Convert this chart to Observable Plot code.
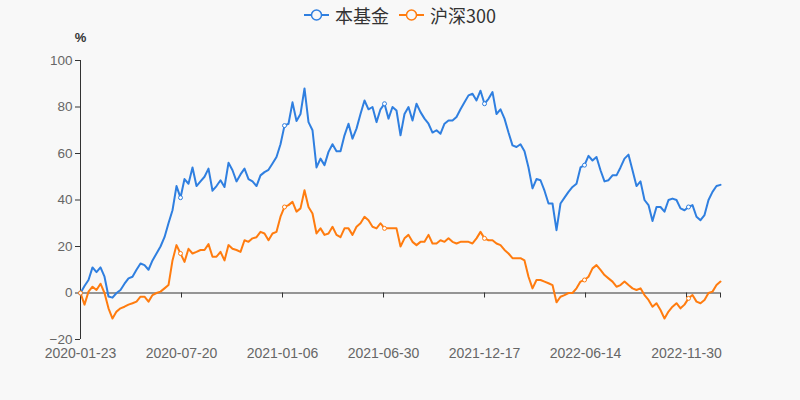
<!DOCTYPE html>
<html><head><meta charset="utf-8">
<script src="https://cdn.jsdelivr.net/npm/d3@7"></script>
<script src="https://cdn.jsdelivr.net/npm/@observablehq/plot@0.6"></script>
<style>
body{margin:0;background:#f8f8f8;}
#wrap{position:relative;width:800px;height:400px;}
#legend{position:absolute;top:3px;left:0;width:800px;height:24px;display:flex;justify-content:center;align-items:center;font-family:"Noto Sans CJK SC","Liberation Sans",sans-serif;font-size:18px;color:#333;z-index:2;}
.item{display:flex;align-items:center;margin:0 5px;}
.item svg{margin-right:6px;}
</style></head><body>
<div id="wrap"><div id="legend"></div><div id="chart"></div></div>
<script>
const seriesNames = ["本基金", "沪深300"];
const seriesColors = ["#2f7fe0", "#ff7c0f"];

// cumulative return (%) at evenly spaced trading days
const fundValues = [
  0, 3, 5.6, 11, 9, 11, 7, -1.5, -2, 0,
  1.3, 4, 6.3, 7, 10, 12.7, 12, 10, 14, 17,
  20, 24, 30, 35.6, 46, 41, 49, 47, 54, 46,
  48, 50, 53.5, 44, 46, 48.5, 45.6, 56, 52.8, 48,
  51, 53.5, 49, 48, 46, 50.6, 52, 53, 55.7, 58.5,
  64, 72, 72.8, 82, 74, 77, 88, 73.5, 70, 54,
  57.8, 55, 60.7, 64, 61, 61, 67.8, 72.8, 66.4, 70.7,
  77, 82.8, 79, 80, 73.5, 79, 81.4, 75, 80, 78.5,
  67.8, 77, 80, 74.2, 81.4, 77.8, 75, 72.8, 69, 70,
  68.5, 72.8, 74.2, 74.2, 75.7, 79, 82, 85, 85.7, 82.8,
  87, 81.4, 83.5, 86.4, 77, 79, 75, 69, 63.5, 62.8,
  64, 61, 54, 45, 49, 48.5, 44, 38.5, 38.5, 27,
  38.5, 41, 43.5, 45.6, 47, 54, 55, 59, 57, 58.5,
  52.8, 48, 48.5, 50.6, 50.6, 54, 57.8, 59.5, 52.8, 46,
  48, 40, 37.8, 31, 37, 37, 35, 40, 40.6, 40,
  36.4, 35.6, 37, 37.8, 32.8, 31.3, 33.5, 40, 43.5, 46,
  46.5
];
const indexValues = [
  0, -5, 0.6, 2.7, 1.3, 4, 0, -6.6, -11, -8,
  -6.6, -5.9, -5, -4.4, -3.7, -1.6, -1.6, -3.7, -0.9, 0,
  0.6, 2, 3.4, 14, 20.6, 17, 13.4, 19, 17, 17.7,
  18.5, 18.5, 21, 15.6, 15.6, 17.7, 14, 20.6, 19, 18.5,
  17.7, 22.7, 22, 23.5, 24, 26.3, 25.6, 22.7, 25.6, 26.3,
  32.8, 37, 37.8, 39.2, 35, 36.4, 44.2, 37, 34.2, 25.6,
  27.8, 25, 25.6, 28.5, 25, 24, 27.8, 27.8, 25, 28.5,
  30, 32.8, 31.3, 28.5, 27.8, 30, 27.8, 27.8, 27.8, 27.8,
  20, 23.5, 25, 22, 20.6, 22, 22, 25, 21.3, 21.3,
  22.7, 22, 23.5, 22, 21.3, 22, 22, 22, 21.3, 23.5,
  26.3, 23.5, 22.7, 22.7, 21.3, 20.6, 18.5, 17, 15, 15,
  15, 14, 7, 2, 5.6, 5.6, 4.9, 4.2, 3.4, -4,
  -1.6, -0.9, 0, 0, 2, 4.9, 5.6, 7, 10.6, 12,
  9.9, 7.7, 6.3, 4.9, 2.7, 3.4, 4.9, 3.4, 2, 1.3,
  2, -0.9, -3, -5.9, -4.4, -7.3, -11, -8, -5.9, -4.4,
  -6.6, -5, -2.3, -0.9, -3.7, -4.4, -3, 0, 0.6, 3.4,
  4.9
];
const tickLabels = ["2020-01-23", "2020-07-20", "2021-01-06", "2021-06-30", "2021-12-17", "2022-06-14", "2022-11-30"];
const tickDays = [0, 116, 232, 348, 464, 580, 696];   // trading-day index of each label
const spanDays = 735;                                  // last trading-day index
const yTicks = [-20, 0, 20, 40, 60, 80, 100];
const unitLabel = "%";

const n = fundValues.length;
const data = fundValues.map((v, i) => ({x: i * spanDays / (n - 1), fund: v, hs: indexValues[i]}));
const dotData = tickDays.map(d => data[Math.round(d * (n - 1) / spanDays)]);
const ticks = tickDays.map((d, i) => ({x: d, label: tickLabels[i]}));

const chart = Plot.plot({
  width: 800, height: 400,
  marginTop: 60, marginBottom: 61, marginLeft: 80, marginRight: 80,
  style: {background: "#f8f8f8", fontFamily: "'Liberation Sans', Arial, sans-serif", fontSize: "14px", color: "#333"},
  x: {domain: [0, spanDays], axis: null},
  y: {domain: [-20, 100], axis: null},
  marks: [
    Plot.ruleX([0], {stroke: "#333", strokeWidth: 1}),
    Plot.ruleY(yTicks, {y: d => d, x1: 0, x2: 0, insetLeft: -5, stroke: "#333"}),
    Plot.text(yTicks, {y: d => d, frameAnchor: "left", dx: -8, textAnchor: "end", fill: "#666", fontSize: 13.5, text: d => d < 0 ? "\u2212" + Math.abs(d) : String(d)}),
    Plot.ruleY([0], {stroke: "#333", strokeWidth: 1}),
    Plot.ruleX([...tickDays, spanDays], {x: d => d, y1: 0, y2: 0, insetBottom: -5, stroke: "#333"}),
    Plot.text(ticks, {x: "x", text: "label", frameAnchor: "bottom", dy: 18, fill: "#666"}),
    Plot.text([{x: 0, t: unitLabel}], {x: "x", text: "t", frameAnchor: "top", dy: -23, lineAnchor: "middle", textAnchor: "middle", fontWeight: "bold", fill: "#333", fontSize: 13}),
    Plot.line(data, {x: "x", y: "fund", stroke: seriesColors[0], strokeWidth: 2}),
    Plot.line(data, {x: "x", y: "hs", stroke: seriesColors[1], strokeWidth: 2}),
    Plot.dot(dotData, {x: "x", y: "fund", r: 2, fill: "white", stroke: seriesColors[0], strokeWidth: 1}),
    Plot.dot(dotData, {x: "x", y: "hs", r: 2, fill: "white", stroke: seriesColors[1], strokeWidth: 1})
  ]
});
document.getElementById("chart").appendChild(chart);

const legend = document.getElementById("legend");
seriesNames.forEach((name, i) => {
  const item = document.createElement("div");
  item.className = "item";
  item.innerHTML = `<svg width="25" height="14"><line x1="0" y1="7" x2="25" y2="7" stroke="${seriesColors[i]}" stroke-width="2"/><circle cx="12.5" cy="7" r="5" fill="#f8f8f8" stroke="${seriesColors[i]}" stroke-width="1.5"/></svg><span>${name}</span>`;
  legend.appendChild(item);
});
</script>
</body></html>
